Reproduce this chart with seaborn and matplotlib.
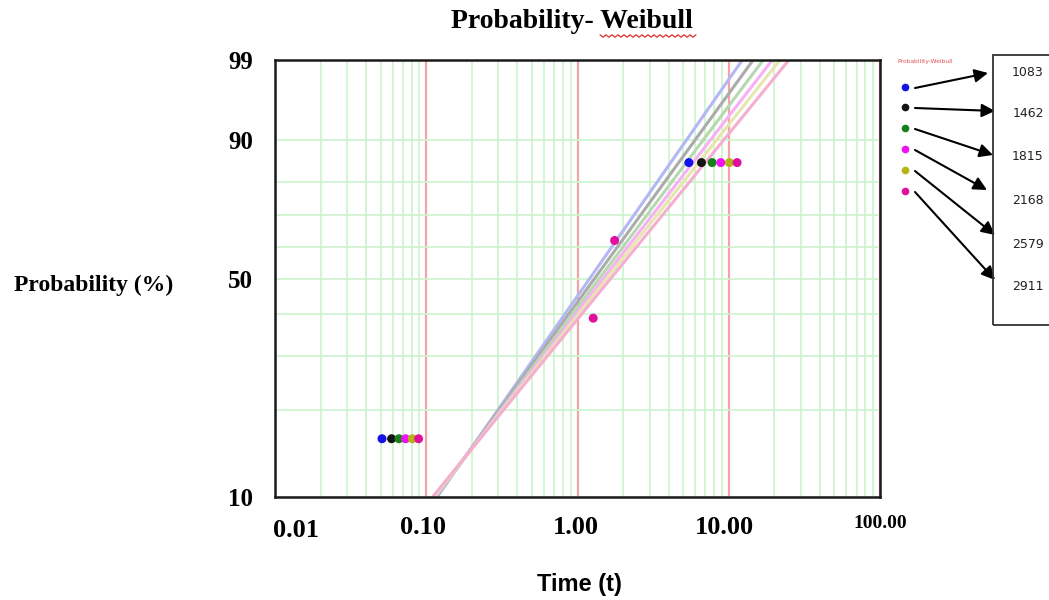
import numpy as np
import pandas as pd
import seaborn as sns
import matplotlib.pyplot as plt
from matplotlib.ticker import FixedLocator, LogLocator, NullFormatter
from matplotlib.patches import Rectangle
from matplotlib.lines import Line2D

# series (legend numbers) and colours
series = ["1083", "1462", "1815", "2168", "2579", "2911"]
dot_colors = ["#1414e6", "#141414", "#17801a", "#f012f0", "#b4b414", "#e0109e"]
line_colors = ["#b3b7f4", "#ababab", "#b6d8b0", "#f7b0f3", "#e6e6ae", "#f6aed0"]

# fitted Weibull lines: time at 10 % and at 99 %
line_prob = [10, 99]
t_at_10 = [0.118, 0.116, 0.115, 0.113, 0.112, 0.110]
t_at_99 = [12.3, 14.5, 16.9, 19.4, 21.8, 25.0]

# plotted points
low_prob = 16
low_times = [0.051, 0.059, 0.066, 0.073, 0.081, 0.089]
high_prob = 85
high_times = [5.45, 6.6, 7.76, 8.86, 10.1, 11.35]
extra_times = [1.76, 1.27]
extra_probs = [62, 39]

y_ticks = [10, 50, 90, 99]
y_minor = [20, 30, 40, 60, 70, 80]
x_ticks = [0.01, 0.1, 1, 10, 100]
x_labels = ["0.01", "0.10", "1.00", "10.00", "100.00"]


def weib_fwd(p):
    p = np.clip(np.asarray(p, dtype=float), 1e-6, 99.9999)
    return np.log(-np.log(1 - p / 100))


def weib_inv(w):
    return 100 * (1 - np.exp(-np.exp(w)))


lines = pd.DataFrame({
    "t": [v for pair in zip(t_at_10, t_at_99) for v in pair],
    "p": line_prob * len(series),
    "series": [s for s in series for _ in line_prob],
})
points = pd.DataFrame({
    "t": low_times + high_times + extra_times,
    "p": [low_prob] * 6 + [high_prob] * 6 + extra_probs,
    "series": series + series + [series[-1]] * len(extra_times),
})

sns.set_style("white")
plt.rcParams["text.color"] = "black"
plt.rcParams["ytick.color"] = "black"
serif = "Liberation Serif"

W, H = 1049, 600
fig = plt.figure(figsize=(W / 100, H / 100), dpi=100)
ax = fig.add_axes([275 / W, 1 - 497 / H, 605 / W, 437 / H])
ax.set_xscale("log")
ax.set_yscale("function", functions=(weib_fwd, weib_inv))
ax.set_axisbelow(True)

ax.xaxis.set_major_locator(FixedLocator(x_ticks))
ax.xaxis.set_minor_locator(LogLocator(base=10, subs=np.arange(2, 10)))
ax.xaxis.set_major_formatter(NullFormatter())
ax.xaxis.set_minor_formatter(NullFormatter())
ax.yaxis.set_major_locator(FixedLocator(y_ticks))
ax.yaxis.set_minor_locator(FixedLocator(y_minor))
ax.yaxis.set_minor_formatter(NullFormatter())
ax.set_yticklabels([str(v) for v in y_ticks], fontfamily=serif,
                   fontweight="bold", fontsize=18, color="black")
ax.tick_params(axis="both", which="both", length=0)
ax.tick_params(axis="y", pad=16)

ax.xaxis.grid(True, which="major", color="#f2a3a3", lw=1.6)
ax.xaxis.grid(True, which="minor", color="#ccf3cc", lw=1.2)
ax.yaxis.grid(True, which="both", color="#ccf3cc", lw=1.2)

sns.lineplot(data=lines, x="t", y="p", hue="series",
             palette=dict(zip(series, line_colors)), lw=2.2, sort=False,
             estimator=None, legend=False, ax=ax)
sns.scatterplot(data=points, x="t", y="p", hue="series",
                palette=dict(zip(series, dot_colors)), s=42, linewidth=0,
                legend=False, ax=ax, zorder=5)

ax.set_xlim(0.01, 100)
ax.set_ylim(10, 99)
ax.set_xlabel("")
ax.set_ylabel("")
for sp in ax.spines.values():
    sp.set_color("#1a1a1a")
    sp.set_linewidth(1.8)

# x tick labels, placed like the original
x_offsets = [(15, -24), (-2, -22), (-1, -22), (-3, -22), (0, -19)]
for t, lab, (dx, dy) in zip(x_ticks, x_labels, x_offsets):
    ax.annotate(lab, xy=(t, 0), xycoords=("data", "axes fraction"),
                xytext=(dx, dy), textcoords="offset points",
                ha="center", va="center", fontfamily=serif, fontweight="bold",
                fontsize=14 if lab == "100.00" else 19, annotation_clip=False)

fig.text(572 / W, 1 - 22 / H, "Probability- Weibull", ha="center", va="center",
         fontfamily=serif, fontweight="bold", fontsize=20)
# spell-check squiggle under "Weibull"
sq_x = np.arange(600, 698, 3)
sq_y = 36 + np.where(np.arange(len(sq_x)) % 2 == 0, -1.2, 1.2)
fig.add_artist(Line2D(sq_x / W, 1 - sq_y / H, transform=fig.transFigure,
                      color="#e03030", lw=0.9))

fig.text(94 / W, 1 - 285 / H, "Probability (%)", ha="center", va="center",
         fontfamily=serif, fontweight="bold", fontsize=17)
fig.text(579 / W, 1 - 585 / H, "Time (t)", ha="center", va="center",
         fontfamily="Liberation Sans", fontweight="bold", fontsize=17)

# hand-made legend at the right
fig.text(925 / W, 1 - 61 / H, "Probability-Weibull", ha="center", va="center",
         fontsize=4.3, color="#e05050")
dot_y = [87, 107, 128, 149, 170, 191]
arrow_end = [(988, 73), (995, 111), (993, 155), (987, 190), (995, 235), (995, 280)]
num_y = [73, 114, 157, 201, 244, 286]
fig.add_artist(Rectangle((993 / W, 1 - 325 / H), 70 / W, 270 / H,
                         transform=fig.transFigure, fill=False,
                         edgecolor="#333333", lw=1.3))
for lab, col, yy, (ex, ey), ny in zip(series, dot_colors, dot_y, arrow_end, num_y):
    fig.add_artist(Line2D([905 / W], [1 - yy / H], transform=fig.transFigure,
                          marker="o", markersize=4.5, color=col, lw=0))
    ax.annotate("", xy=(ex / W, 1 - ey / H), xycoords="figure fraction",
                xytext=(915 / W, 1 - (yy + 1) / H), textcoords="figure fraction",
                arrowprops=dict(arrowstyle="-|>", mutation_scale=20, lw=1.5,
                                color="black", shrinkA=0, shrinkB=0),
                annotation_clip=False)
    fig.text(1028 / W, 1 - ny / H, lab, ha="center", va="center", fontsize=9,
             color="#222222")

fig.savefig("out.png", dpi=100)
